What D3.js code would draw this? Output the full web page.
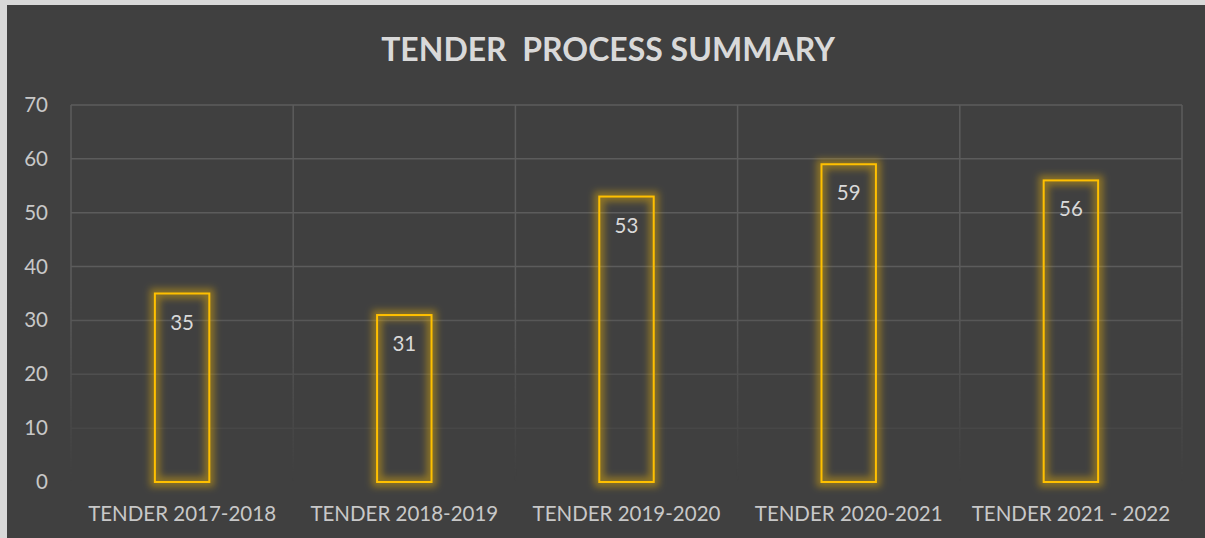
<!DOCTYPE html>
<html>
<head>
<meta charset="utf-8">
<script src="https://cdn.jsdelivr.net/npm/d3@7/dist/d3.min.js"></script>
<style>
  html, body { margin: 0; padding: 0; background: #d9d9d9; }
  svg { display: block; }
</style>
</head>
<body>
<svg id="chart" width="1205" height="538"></svg>
<script>
const categories = ["TENDER 2017-2018", "TENDER 2018-2019", "TENDER 2019-2020", "TENDER 2020-2021", "TENDER 2021 - 2022"];
const values = [35, 31, 53, 59, 56];
const yTicks = [0, 10, 20, 30, 40, 50, 60, 70];
const title = "TENDER  PROCESS SUMMARY";

const W = 1205, H = 538;
const margin = { left: 71, right: 23, top: 105, bottom: 56 };
const FONT = "Lato, 'Open Sans', sans-serif";

const svg = d3.select("#chart");
const defs = svg.append("defs");

// chart background (offset, light border at top/left)
svg.append("rect").attr("x", 7).attr("y", 5).attr("width", W - 7).attr("height", H - 5).attr("fill", "#404040");

// fading mask for gridlines
const grad = defs.append("linearGradient").attr("id", "fadeGrad")
  .attr("gradientUnits", "userSpaceOnUse")
  .attr("x1", 0).attr("x2", 0).attr("y1", margin.top).attr("y2", H - margin.bottom);
grad.append("stop").attr("offset", 0).attr("stop-color", "#fff");
grad.append("stop").attr("offset", 0.5).attr("stop-color", "#fff");
grad.append("stop").attr("offset", 0.97).attr("stop-color", "#fff").attr("stop-opacity", 0.03);
grad.append("stop").attr("offset", 1).attr("stop-color", "#fff").attr("stop-opacity", 0.0);
defs.append("mask").attr("id", "fadeMask").attr("maskUnits", "userSpaceOnUse")
  .attr("x", 0).attr("y", 0).attr("width", W).attr("height", H)
  .append("rect").attr("x", 0).attr("y", 0).attr("width", W).attr("height", H).attr("fill", "url(#fadeGrad)");

// glow filter
const f = defs.append("filter").attr("id", "glow").attr("x", "-50%").attr("y", "-20%").attr("width", "200%").attr("height", "140%");
f.append("feGaussianBlur").attr("stdDeviation", 3.5);

const x = d3.scaleBand().domain(categories).range([margin.left, W - margin.right]).paddingInner(0).paddingOuter(0);
const y = d3.scaleLinear().domain([0, 70]).range([H - margin.bottom, margin.top]);

// gridlines
const grid = svg.append("g").attr("mask", "url(#fadeMask)");
grid.selectAll("line.h").data(yTicks).join("line")
  .attr("x1", margin.left).attr("x2", W - margin.right)
  .attr("y1", d => y(d)).attr("y2", d => y(d))
  .attr("stroke", "#5c5c5c").attr("stroke-width", 1.5);
const vEdges = categories.map(c => x(c)).concat([x(categories[categories.length - 1]) + x.bandwidth()]);
grid.selectAll("line.v").data(vEdges).join("line")
  .attr("x1", d => d).attr("x2", d => d)
  .attr("y1", y(70)).attr("y2", y(0))
  .attr("stroke", "#5c5c5c").attr("stroke-width", 1.5);

// title
svg.append("text").attr("x", (W + 7) / 2 + 2).attr("y", 61)
  .attr("text-anchor", "middle").attr("font-family", FONT).attr("font-weight", "bold")
  .attr("font-size", 32).attr("fill", "#d9d9d9").attr("xml:space", "preserve")
  .style("white-space", "pre").text(title);

// y axis
const yAxis = svg.append("g").attr("transform", `translate(${margin.left - 23},0)`)
  .call(d3.axisLeft(y).tickValues(yTicks).tickSize(0).tickPadding(0));
yAxis.select(".domain").remove();
yAxis.selectAll("text").attr("font-family", FONT).attr("font-size", 20.5).attr("fill", "#c8c8c8");

// x axis
const xAxis = svg.append("g").attr("transform", `translate(0,${y(0)})`)
  .call(d3.axisBottom(x).tickSize(0).tickPadding(24));
xAxis.select(".domain").remove();
xAxis.selectAll("text").attr("font-family", FONT).attr("font-size", 20.5).attr("fill", "#c8c8c8");

// bars
const barW = x.bandwidth() * 0.245;
const bars = svg.append("g");
bars.selectAll("rect.glow").data(values).join("rect")
  .attr("x", (d, i) => x(categories[i]) + (x.bandwidth() - barW) / 2)
  .attr("y", d => y(d))
  .attr("width", barW).attr("height", d => y(0) - y(d))
  .attr("fill", "none").attr("stroke", "#ffc000").attr("stroke-opacity", 0.4)
  .attr("stroke-width", 10).attr("filter", "url(#glow)");
bars.selectAll("rect.bar").data(values).join("rect")
  .attr("x", (d, i) => x(categories[i]) + (x.bandwidth() - barW) / 2)
  .attr("y", d => y(d))
  .attr("width", barW).attr("height", d => y(0) - y(d))
  .attr("fill", "none").attr("stroke", "#ffc000").attr("stroke-width", 2);

// data labels
bars.selectAll("text").data(values).join("text")
  .attr("x", (d, i) => x(categories[i]) + x.bandwidth() / 2)
  .attr("y", d => y(d) + 36)
  .attr("text-anchor", "middle").attr("font-family", FONT).attr("font-size", 20.5)
  .attr("fill", "#d9d9d9").text(d => d);
</script>
</body>
</html>
